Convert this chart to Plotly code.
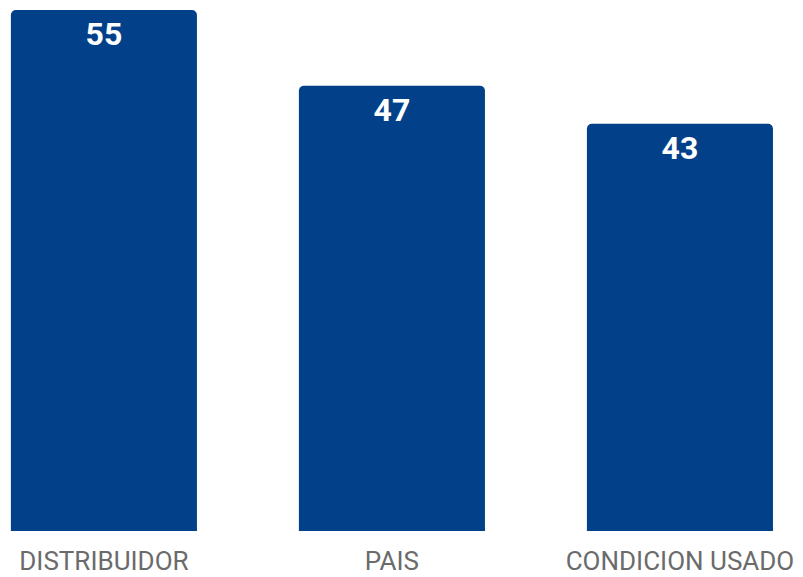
import plotly.graph_objects as go

categories = ["DISTRIBUIDOR", "PAIS", "CONDICION USADO"]
values = [55, 47, 43]

fig = go.Figure(go.Bar(
    x=list(range(len(categories))),
    y=values,
    width=0.646,
    marker=dict(color="#02418A", line=dict(width=0)),
    text=[str(v) for v in values],
    textposition="inside",
    insidetextanchor="end",
    textfont=dict(family="Roboto", size=32, color="white", weight="bold"),
    textangle=0,
))

fig.update_layout(
    width=803, height=577,
    margin=dict(l=0, r=0, t=0, b=54),
    paper_bgcolor="white", plot_bgcolor="white",
    barcornerradius=5,
    showlegend=False,
    xaxis=dict(
        range=[-0.333, 2.455],
        tickmode="array",
        tickvals=list(range(len(categories))),
        ticktext=categories,
        showgrid=False, zeroline=False, showline=False,
        tickfont=dict(family="Roboto", size=26, color="#6b6b6b"),
        ticks="", ticklabelstandoff=12,
    ),
    yaxis=dict(range=[0, 55.22], visible=False),
)

fig.write_html("out.html")
